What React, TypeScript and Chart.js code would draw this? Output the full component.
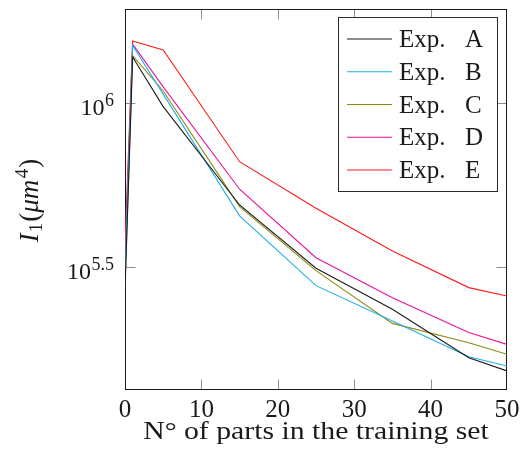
import React, { useEffect, useRef } from "react";
import { Chart, registerables } from "chart.js";

Chart.register(...registerables);

// Number of parts in the training set
const partsCounts = [0, 1, 5, 15, 25, 35, 45, 50];
// I1 (µm^4) per experiment
const expA = [269800, 1383600, 977200, 489800, 314100, 235500, 167500, 152800];
const expB = [305500, 1499700, 1066600, 453900, 278000, 216800, 168700, 158100];
const expC = [277300, 1396400, 1090200, 484200, 309000, 213300, 186200, 171800];
const expD = [328100, 1513600, 1122000, 547000, 338100, 255300, 200000, 184100];
const expE = [369800, 1548800, 1453600, 663700, 478600, 354800, 274200, 258500];

const seriesNames = ["Exp. A", "Exp. B", "Exp. C", "Exp. D", "Exp. E"];
const seriesColors = ["#1c1c1c", "#1eb0e6", "#8c8a12", "#ea1399", "#ff1a1a"];

const xTickValues = [0, 10, 20, 30, 40, 50];
const xTickLabels = ["0", "10", "20", "30", "40", "50"];
const yTickExponents = ["5.5", "6"];

const X_MIN = 0;
const X_MAX = 50;
const Y_MIN = Math.pow(10, 5.1259);
const Y_MAX = Math.pow(10, 6.2875);

const FONT = "'Liberation Serif', 'Times New Roman', serif";

const axesPlugin = {
  id: "pgfAxes",
  beforeDatasetsDraw(chart: any) {
    const { ctx, chartArea } = chart;
    const xs = chart.scales.x;
    const ys = chart.scales.y;
    const L = Math.round(chartArea.left) + 0.5;
    const R = Math.round(chartArea.right) - 0.5;
    const T = Math.round(chartArea.top) + 0.5;
    const B = Math.round(chartArea.bottom) - 0.5;
    ctx.save();
    // ticks (inward)
    ctx.strokeStyle = "#8f8f8f";
    ctx.lineWidth = 1;
    const tl = 10;
    xTickValues.forEach((v) => {
      if (v === X_MIN || v === X_MAX) return;
      const px = Math.round(xs.getPixelForValue(v)) + 0.5;
      ctx.beginPath();
      ctx.moveTo(px, B);
      ctx.lineTo(px, B - tl);
      ctx.moveTo(px, T);
      ctx.lineTo(px, T + tl);
      ctx.stroke();
    });
    yTickExponents.forEach((e) => {
      const py = Math.round(ys.getPixelForValue(Math.pow(10, parseFloat(e)))) + 0.5;
      ctx.beginPath();
      ctx.moveTo(L, py);
      ctx.lineTo(L + tl, py);
      ctx.moveTo(R, py);
      ctx.lineTo(R - tl, py);
      ctx.stroke();
    });
    // frame
    ctx.strokeStyle = "#1a1a1a";
    ctx.lineWidth = 1;
    ctx.strokeRect(L, T, R - L, B - T);

    // tick labels
    ctx.fillStyle = "#1a1a1a";
    ctx.font = `25px ${FONT}`;
    ctx.textAlign = "center";
    ctx.textBaseline = "alphabetic";
    xTickValues.forEach((v, i) => {
      const px = xs.getPixelForValue(v);
      ctx.fillText(xTickLabels[i], px, B + 27.5);
    });
    ctx.textAlign = "left";
    yTickExponents.forEach((e) => {
      const py = ys.getPixelForValue(Math.pow(10, parseFloat(e)));
      ctx.font = `24px ${FONT}`;
      const wb = ctx.measureText("10").width;
      ctx.font = `18px ${FONT}`;
      const we = ctx.measureText(e).width;
      const right = L - 12;
      const x0 = right - wb - we;
      ctx.font = `24px ${FONT}`;
      ctx.fillText("10", x0, py + 11.5);
      ctx.font = `18px ${FONT}`;
      ctx.fillText(e, x0 + wb + 0.5, py + 2.5);
    });

    // x title (stretched a little to match the wider TeX face)
    ctx.save();
    ctx.font = `25px ${FONT}`;
    ctx.textAlign = "center";
    ctx.translate((L + R) / 2, B + 49.5);
    ctx.scale(1.19, 1);
    ctx.fillText("N° of parts in the training set", 0, 0);
    ctx.restore();

    // y title: I_1 (µm^4), rotated
    ctx.save();
    ctx.translate(37.5, (T + B) / 2 + 1);
    ctx.rotate(-Math.PI / 2);
    ctx.textAlign = "left";
    const parts = [
      { t: "I", f: `italic 27px ${FONT}`, dy: 0, gap: 1 },
      { t: "1", f: `19px ${FONT}`, dy: 4, gap: 1 },
      { t: "(", f: `27px ${FONT}`, dy: 0, gap: 0 },
      { t: "μm", f: `italic 27px ${FONT}`, dy: 0, gap: 1.5 },
      { t: "4", f: `19px ${FONT}`, dy: -10, gap: 1 },
      { t: ")", f: `27px ${FONT}`, dy: 0, gap: 0 },
    ];
    let total = 0;
    parts.forEach((p) => {
      ctx.font = p.f;
      total += ctx.measureText(p.t).width + p.gap;
    });
    let cx = -total / 2;
    parts.forEach((p) => {
      ctx.font = p.f;
      ctx.fillText(p.t, cx, p.dy);
      cx += ctx.measureText(p.t).width + p.gap;
    });
    ctx.restore();
    ctx.restore();
  },
  afterDraw(chart: any) {
    const { ctx } = chart;
    const bx = 338.5;
    const by = 17.5;
    const bw = 159;
    const bh = 174;
    ctx.save();
    ctx.fillStyle = "#ffffff";
    ctx.fillRect(bx, by, bw, bh);
    ctx.strokeStyle = "#2a2a2a";
    ctx.lineWidth = 1;
    ctx.strokeRect(bx, by, bw, bh);
    const rowGap = 32.75;
    const firstY = 39;
    chart.data.datasets.forEach((ds: any, i: number) => {
      const y = firstY + i * rowGap;
      ctx.strokeStyle = ds.borderColor;
      ctx.lineWidth = 1.1;
      ctx.beginPath();
      ctx.moveTo(347, y);
      ctx.lineTo(392, y);
      ctx.stroke();
      ctx.fillStyle = "#1a1a1a";
      ctx.font = `25px ${FONT}`;
      ctx.textAlign = "left";
      ctx.textBaseline = "alphabetic";
      const [word, letter] = String(ds.label).split(" ");
      ctx.fillText(word, 399, y + 8);
      ctx.fillText(letter, 465, y + 8);
    });
    ctx.restore();
  },
};

export default function App() {
  const canvasRef = useRef<HTMLCanvasElement | null>(null);

  useEffect(() => {
    const canvas = canvasRef.current;
    if (!canvas) return;
    const series = [expA, expB, expC, expD, expE];
    const chart = new Chart(canvas, {
      type: "line",
      data: {
        datasets: series.map((vals, i) => ({
          label: seriesNames[i],
          data: partsCounts.map((x, j) => ({ x, y: vals[j] })),
          borderColor: seriesColors[i],
          backgroundColor: seriesColors[i],
          borderWidth: 1.1,
          pointRadius: 0,
          tension: 0,
          fill: false,
        })),
      },
      options: {
        responsive: false,
        animation: false,
        devicePixelRatio: 1,
        layout: { padding: { left: 125, right: 15, top: 9, bottom: 72 } },
        scales: {
          x: { type: "linear", min: X_MIN, max: X_MAX, display: false },
          y: { type: "logarithmic", min: Y_MIN, max: Y_MAX, display: false },
        },
        plugins: {
          legend: { display: false },
          tooltip: { enabled: false },
        },
      },
      plugins: [axesPlugin],
    });
    return () => chart.destroy();
  }, []);

  return (
    <div style={{ position: "fixed", left: 0, top: 0, width: 522, height: 462 }}>
      <canvas ref={canvasRef} width={522} height={462} style={{ display: "block" }} />
    </div>
  );
}
